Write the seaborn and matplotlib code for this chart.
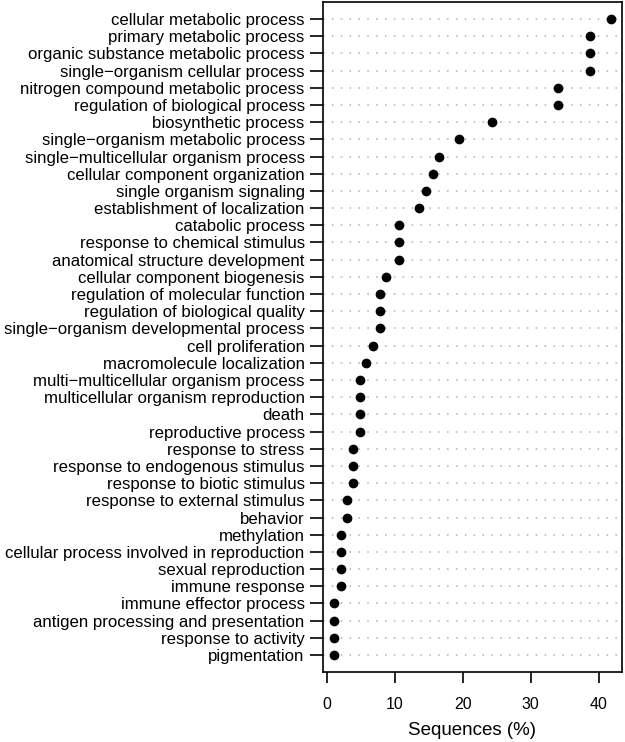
import matplotlib
matplotlib.use("Agg")
import matplotlib.pyplot as plt
import seaborn as sns
import pandas as pd

categories = [
    "cellular metabolic process",
    "primary metabolic process",
    "organic substance metabolic process",
    "single\u2212organism cellular process",
    "nitrogen compound metabolic process",
    "regulation of biological process",
    "biosynthetic process",
    "single\u2212organism metabolic process",
    "single\u2212multicellular organism process",
    "cellular component organization",
    "single organism signaling",
    "establishment of localization",
    "catabolic process",
    "response to chemical stimulus",
    "anatomical structure development",
    "cellular component biogenesis",
    "regulation of molecular function",
    "regulation of biological quality",
    "single\u2212organism developmental process",
    "cell proliferation",
    "macromolecule localization",
    "multi\u2212multicellular organism process",
    "multicellular organism reproduction",
    "death",
    "reproductive process",
    "response to stress",
    "response to endogenous stimulus",
    "response to biotic stimulus",
    "response to external stimulus",
    "behavior",
    "methylation",
    "cellular process involved in reproduction",
    "sexual reproduction",
    "immune response",
    "immune effector process",
    "antigen processing and presentation",
    "response to activity",
    "pigmentation",
]
values = [
    41.8, 38.8, 38.8, 38.8, 34.0, 34.0, 24.3, 19.4, 16.5, 15.6, 14.6, 13.6,
    10.6, 10.6, 10.6, 8.7, 7.8, 7.8, 7.8, 6.8, 5.8, 4.9, 4.9, 4.9, 4.9,
    3.9, 3.9, 3.9, 2.9, 2.9, 2.0, 2.0, 2.0, 2.0, 1.0, 1.0, 1.0, 1.0,
]
x_ticks = [0, 10, 20, 30, 40]

df = pd.DataFrame({"term": categories, "pct": values})

sns.set_theme(style="white")
plt.rcParams["font.family"] = ["Liberation Sans", "DejaVu Sans"]
plt.rcParams["text.color"] = "black"
plt.rcParams["axes.labelcolor"] = "black"
plt.rcParams["xtick.color"] = "black"
plt.rcParams["ytick.color"] = "black"

fig = plt.figure(figsize=(6.25, 7.42), dpi=100)
ax = fig.add_axes([0.5163, 0.0943, 0.4784, 0.903])

for i in range(len(categories)):
    ax.axhline(i, color="#b0b0b0", linestyle=(0, (1, 4.8)), linewidth=1.1, zorder=0)

sns.stripplot(data=df, x="pct", y="term", order=categories, jitter=False,
              color="black", size=7, linewidth=0, ax=ax, zorder=3)

ax.set_xlim(-0.63, 43.4)
ax.set_ylim(len(categories) - 0.01, -0.99)
ax.set_xticks(x_ticks)
ax.set_xticklabels([str(t) for t in x_ticks], fontsize=11.5, color="black")
ax.set_yticks(range(len(categories)))
ax.set_yticklabels(categories, fontsize=12.1, color="black")
ax.set_ylabel("")
ax.set_xlabel("Sequences (%)", fontsize=13.5, labelpad=7, color="black")

for s in ax.spines.values():
    s.set_visible(True)
    s.set_color("black")
    s.set_linewidth(1.2)

ax.tick_params(axis="y", which="major", left=True, length=9.5, width=1.2,
               color="black", labelcolor="black", pad=3.5)
ax.tick_params(axis="x", which="major", bottom=True, length=8, width=1.2,
               color="black", labelcolor="black", pad=10)
ax.grid(False)

fig.savefig("out.png", dpi=100)
